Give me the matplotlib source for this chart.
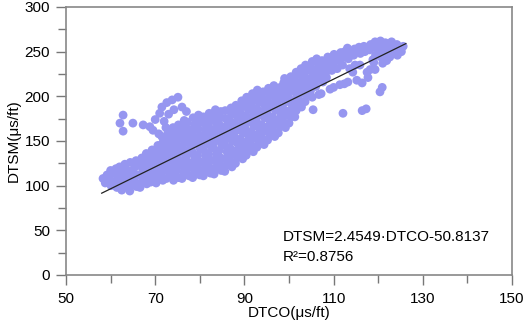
import matplotlib.pyplot as plt
from matplotlib.ticker import MultipleLocator

plt.rcParams['font.family'] = ['Liberation Sans', 'DejaVu Sans']

# Scatter points, roughly one line per DTCO column
dtco = []
dtsm = []
dtco += [58.3, 58.8, 59.2];                     dtsm += [108, 103, 112]
dtco += [60.1, 59.8, 60.4, 60.0];               dtsm += [100, 107, 114, 117]
dtco += [61.4, 61.0, 61.6, 61.2];               dtsm += [98, 105, 111, 119]
dtco += [62.5, 62.2, 62.8, 62.4, 62.0];         dtsm += [95, 103, 109, 115, 121]
dtco += [63.7, 63.3, 63.9, 63.5, 63.2];         dtsm += [99, 106, 113, 118, 124]
dtco += [64.3, 64.7, 64.5, 64.9, 64.4];         dtsm += [94, 101, 108, 117, 126]
dtco += [65.8, 65.4, 65.9, 65.5, 65.7];         dtsm += [99, 105, 112, 121, 128]
dtco += [66.6, 67.1, 66.8, 67.2, 66.7, 67.0];   dtsm += [98, 104, 111, 118, 124, 131]
dtco += [68.1, 67.8, 68.3, 67.9, 68.2, 68.0];   dtsm += [102, 109, 116, 123, 129, 136]
dtco += [69.0, 69.4, 69.1, 69.5, 69.2, 69.3];   dtsm += [104, 111, 119, 126, 133, 140]
dtco += [70.2, 70.6, 70.3, 70.7, 70.5, 70.1, 70.6]
dtsm += [103, 110, 117, 124, 132, 138, 145]
dtco += [71.7, 71.3, 71.8, 71.4, 71.6, 71.2, 71.7, 71.5]
dtsm += [106, 112, 119, 127, 134, 141, 148, 155]
dtco += [72.5, 72.9, 72.6, 73.0, 72.4, 72.8, 72.6, 72.9]
dtsm += [108, 116, 122, 130, 138, 145, 152, 160]
dtco += [74.1, 73.7, 74.2, 73.8, 74.0, 73.6, 74.1, 73.8, 74.0]
dtsm += [106, 113, 121, 128, 134, 142, 149, 157, 165]
dtco += [75.2, 74.8, 75.3, 74.9, 75.1, 74.8, 75.3, 75.0, 75.2]
dtsm += [109, 117, 124, 131, 139, 146, 153, 161, 168]
dtco += [76.0, 76.4, 76.1, 76.5, 76.2, 76.0, 76.4, 76.1, 76.3, 76.5]
dtsm += [108, 114, 122, 129, 137, 144, 151, 158, 166, 173]
dtco += [77.6, 77.2, 77.5, 77.1, 77.6, 77.3, 77.7, 77.4, 77.2]
dtsm += [111, 119, 126, 134, 140, 148, 156, 163, 171]
dtco += [78.4, 78.8, 78.5, 78.9, 78.3, 78.7, 78.6, 78.4, 78.8, 78.5]
dtsm += [109, 116, 123, 131, 138, 146, 153, 160, 168, 176]
dtco += [80.0, 79.6, 79.9, 79.5, 80.1, 79.7, 80.0, 79.6, 79.9, 79.7]
dtsm += [112, 119, 127, 134, 141, 149, 156, 164, 171, 179]
dtco += [80.8, 81.2, 80.9, 81.3, 80.8, 81.1, 80.9, 81.2, 81.0, 80.8]
dtsm += [111, 118, 125, 133, 140, 147, 155, 162, 170, 177]
dtco += [82.4, 82.0, 82.3, 81.9, 82.5, 82.1, 82.4, 82.0, 82.3, 82.1]
dtsm += [114, 122, 129, 136, 144, 151, 159, 166, 173, 181]
dtco += [83.2, 83.6, 83.3, 83.7, 83.1, 83.5, 83.2, 83.6, 83.4, 83.3, 83.5]
dtsm += [113, 120, 128, 135, 142, 150, 157, 164, 172, 179, 185]
dtco += [84.8, 84.4, 84.7, 84.3, 84.9, 84.5, 84.8, 84.4, 84.6, 84.7]
dtsm += [117, 124, 131, 139, 146, 153, 161, 168, 176, 183]
dtco += [85.6, 86.0, 85.7, 86.1, 85.5, 85.9, 85.6, 86.0, 85.8, 85.7]
dtsm += [116, 123, 130, 138, 145, 152, 160, 167, 175, 184]
dtco += [87.2, 86.8, 87.1, 86.7, 87.3, 86.9, 87.2, 86.8, 87.1, 87.0]
dtsm += [121, 128, 135, 143, 150, 158, 165, 172, 180, 187]
dtco += [88.0, 88.4, 88.1, 88.5, 87.9, 88.3, 88.0, 88.4, 88.2, 88.1]
dtsm += [125, 132, 139, 147, 154, 162, 169, 177, 184, 190]
dtco += [89.6, 89.2, 89.5, 89.1, 89.7, 89.3, 89.6, 89.2, 89.5, 89.4]
dtsm += [130, 137, 144, 152, 159, 167, 174, 181, 189, 195]
dtco += [90.4, 90.8, 90.5, 90.9, 90.3, 90.7, 90.4, 90.8, 90.6, 90.5]
dtsm += [134, 141, 149, 156, 163, 171, 178, 186, 193, 199]
dtco += [92.0, 91.6, 91.9, 91.5, 92.1, 91.7, 92.0, 91.6, 91.9, 91.8]
dtsm += [138, 145, 153, 160, 167, 175, 182, 190, 197, 203]
dtco += [92.8, 93.2, 92.9, 93.3, 92.7, 93.1, 92.8, 93.2, 93.0, 92.9]
dtsm += [143, 149, 157, 164, 172, 179, 186, 194, 201, 207]
dtco += [94.4, 94.0, 94.3, 93.9, 94.5, 94.1, 94.4, 94.0, 94.2]
dtsm += [146, 153, 161, 168, 176, 183, 191, 198, 205]
dtco += [95.2, 95.6, 95.3, 95.7, 95.1, 95.5, 95.2, 95.6, 95.4]
dtsm += [151, 158, 166, 173, 181, 188, 195, 202, 209]
dtco += [96.8, 96.4, 96.7, 96.3, 96.9, 96.5, 96.8, 96.4, 96.6]
dtsm += [155, 162, 170, 177, 185, 192, 199, 206, 212]
dtco += [97.6, 98.0, 97.7, 98.1, 97.5, 97.9, 97.6, 98.0]
dtsm += [159, 166, 174, 181, 189, 196, 203, 210]
dtco += [99.2, 98.8, 99.1, 98.7, 99.3, 98.9, 99.2, 98.8, 99.0]
dtsm += [165, 171, 179, 186, 194, 201, 208, 215, 220]
dtco += [100.0, 100.4, 100.1, 100.5, 99.9, 100.3, 100.0, 100.4]
dtsm += [170, 177, 184, 192, 199, 207, 214, 222]
dtco += [101.3, 101.6, 101.2, 101.7, 101.3, 101.5, 101.2, 101.6]
dtsm += [177, 184, 191, 198, 205, 213, 220, 227]
dtco += [102.8, 102.4, 102.7, 102.3, 102.9, 102.5, 102.7]
dtsm += [188, 195, 203, 210, 217, 224, 231]
dtco += [103.6, 104.0, 103.7, 104.1, 103.5, 103.9, 103.7]
dtsm += [194, 201, 209, 216, 223, 229, 235]
dtco += [105.4, 105.2, 104.8, 105.3, 104.9, 105.1, 104.8, 105.2]
dtsm += [185, 199, 206, 213, 220, 228, 234, 239]
dtco += [106.7, 106.0, 106.4, 106.1, 106.5, 106.2, 105.8]
dtsm += [202, 211, 223, 230, 237, 242, 217]
dtco += [107.2, 107.6, 107.3, 107.7, 107.4, 107.1]
dtsm += [203, 216, 228, 234, 240, 222]
dtco += [109.2, 108.4, 108.8, 108.5, 108.7, 108.2]
dtsm += [208, 221, 231, 238, 244, 226]
dtco += [110.0, 109.6, 109.9, 109.7, 110.1];     dtsm += [210, 229, 236, 242, 247]
dtco += [111.4, 110.8, 111.1, 110.9, 111.6];     dtsm += [213, 231, 240, 246, 249]
dtco += [112.1, 112.4, 112.0, 112.3, 112.5];     dtsm += [181, 214, 235, 244, 250]
dtco += [113.2, 113.6, 113.3, 113.5, 113.1];     dtsm += [216, 231, 242, 249, 254]
dtco += [114.3, 114.8, 114.5, 114.7, 114.2];     dtsm += [227, 235, 246, 253, 250]
dtco += [115.2, 115.9, 116.0, 115.7];            dtsm += [218, 235, 248, 255]
dtco += [116.4, 117.3, 116.4, 117.5, 117.0, 116.8]
dtsm += [184, 186, 215, 227, 250, 256]
dtco += [117.7, 118.2, 118.8, 118.1, 118.3];     dtsm += [221, 230, 241, 252, 258]
dtco += [119.3, 119.0, 119.4, 119.1, 119.3];     dtsm += [230, 238, 246, 255, 261]
dtco += [120.4, 120.9, 121.0, 120.6, 120.3, 120.7, 120.5]
dtsm += [205, 210, 237, 244, 251, 257, 262]
dtco += [121.9, 121.5, 121.8, 121.6];            dtsm += [240, 247, 253, 260]
dtco += [122.6, 123.1, 122.8, 123.0];            dtsm += [244, 250, 256, 261]
dtco += [124.3, 123.9, 124.2];                   dtsm += [246, 252, 258]
dtco += [125.2, 125.6];                          dtsm += [250, 256]
# spur of high values at low DTCO
dtco += [62.1, 62.8, 62.8, 65.0, 67.3, 68.8, 69.5, 71.0, 71.5, 72.6, 73.8,
         75.1, 74.2, 70.0, 72.0, 73.0, 76.0, 77.0, 70.8, 72.4]
dtsm += [170, 179, 161, 170, 168, 166, 162, 181, 188, 193, 196,
         199, 185, 174, 172, 180, 188, 183, 158, 165]

# Fitted line
slope = 2.4549
intercept = -50.8137
r2 = 0.8756
fit_x = [58.0, 126.2]

x_ticks = [50, 70, 90, 110, 130, 150]

fig = plt.figure(figsize=(5.26, 3.30), dpi=100)
ax = fig.add_axes([0.1255, 0.1667, 0.8479, 0.8121])

ax.scatter(dtco, dtsm, s=40, color='#9696f0', edgecolors='none', zorder=2)
ax.plot(fit_x, [slope * x + intercept for x in fit_x], color='#222222', lw=0.9, zorder=3)

ax.set_xlim(50, 150)
ax.set_ylim(0, 300)
ax.set_xticks(x_ticks)
ax.xaxis.set_minor_locator(MultipleLocator(10))
ax.yaxis.set_major_locator(MultipleLocator(50))
ax.yaxis.set_minor_locator(MultipleLocator(25))
ax.tick_params(which='major', direction='out', length=7.5, width=1.0, color='#777777',
               labelsize=11, pad=4)
ax.tick_params(which='minor', direction='out', length=5.5, width=1.0, color='#777777')
ax.tick_params(axis='x', which='major', pad=5)
for sp in ax.spines.values():
    sp.set_color('#888888')
    sp.set_linewidth(1.2)

ax.set_xlabel('DTCO(μs/ft)', fontsize=11, labelpad=0)
ax.set_ylabel('DTSM(μs/ft)', fontsize=11, labelpad=3)

ax.text(98.7, 42.5, f'DTSM={slope:.4f}·DTCO{intercept:.4f}', fontsize=11,
        ha='left', va='center')
ax.text(98.7, 20.0, f'R²={r2:.4f}', fontsize=11, ha='left', va='center')

fig.savefig('out.png', dpi=100)
